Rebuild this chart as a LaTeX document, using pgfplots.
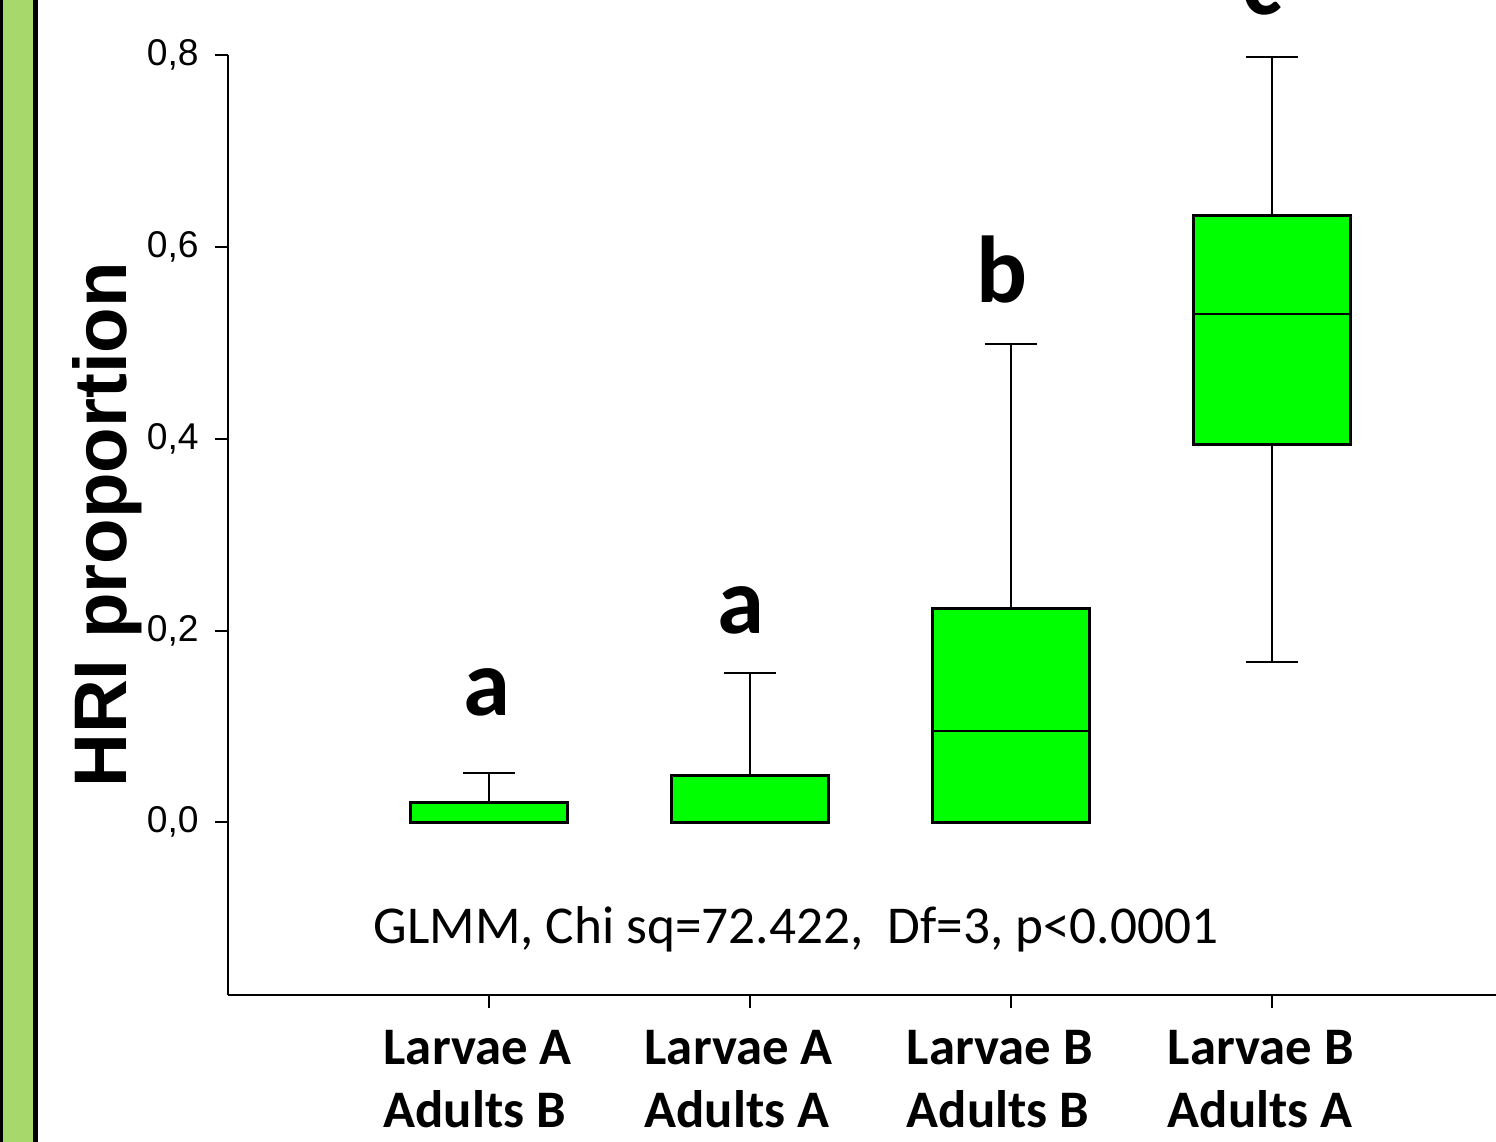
\documentclass[border=0pt]{standalone}
\usepackage{fontspec}
\setmainfont{Carlito}
\newfontfamily\arialfont{Liberation Sans}
\usepackage{pgfplots}
\pgfplotsset{compat=1.18}
\usepgfplotslibrary{statistics}
\definecolor{boxgreen}{HTML}{00FF00}
\definecolor{stripgreen}{HTML}{A6D86C}
\begin{document}
\begin{tikzpicture}
\useasboundingbox (-91.2pt,-58.8pt) rectangle (507.2pt,398pt);
\fill[black] (-91.2pt,-58.8pt) rectangle (-75.9pt,398pt);
\fill[stripgreen] (-89.9pt,-58.8pt) rectangle (-77.9pt,398pt);
\begin{axis}[
  at={(0,0)}, anchor=south west,
  scale only axis, width=507.2pt, height=376pt,
  xmin=0, xmax=4.858, ymin=-0.18, ymax=0.8,
  axis x line*=bottom, axis y line*=left,
  axis line style={line width=1pt, -},
  xtick={1,2,3,4},
  xticklabels={{Larvae A\\Adults B},{Larvae A\\Adults A},{Larvae B\\Adults B},{Larvae B\\Adults A}},
  xticklabel style={align=left, font=\fontsize{21.1}{25.2}\selectfont\bfseries, xshift=-4.5pt, yshift=-5.4pt},
  ytick={0,0.2,0.4,0.6,0.8},
  yticklabel style={font=\arialfont\fontsize{14.9}{17}\selectfont, xshift=-3pt,
    /pgf/number format/.cd, use comma, fixed, fixed zerofill, precision=1, assume math mode=true},
  tick align=outside, major tick length=5.2pt,
  tick style={line width=0.8pt, black},
  clip=false,
  boxplot/draw direction=y,
  boxplot/box extend=0.6,
  boxplot/whisker extend=0.2,
  boxplot/every box/.style={fill=boxgreen, draw=black, line width=1.2pt},
  boxplot/every whisker/.style={black, line width=0.8pt},
  boxplot/every median/.style={black, line width=0.8pt},
]
\addplot[boxplot prepared={draw position=1, lower whisker=0, lower quartile=0, median=0, upper quartile=0.0209, upper whisker=0.0518}] coordinates {};
\addplot[boxplot prepared={draw position=2, lower whisker=0, lower quartile=0, median=0, upper quartile=0.049, upper whisker=0.156}] coordinates {};
\addplot[boxplot prepared={draw position=3, lower whisker=0, lower quartile=0, median=0.095, upper quartile=0.223, upper whisker=0.499}] coordinates {};
\addplot[boxplot prepared={draw position=4, lower whisker=0.167, lower quartile=0.394, median=0.530, upper quartile=0.633, upper whisker=0.798}] coordinates {};
\node[font=\fontsize{38}{40}\selectfont\bfseries, anchor=base] at (axis cs:0.992,0.1116) {a};
\node[font=\fontsize{38}{40}\selectfont\bfseries, anchor=base] at (axis cs:1.966,0.197) {a};
\node[font=\fontsize{38}{40}\selectfont\bfseries, anchor=base] at (axis cs:2.966,0.542) {b};
\node[font=\fontsize{38}{40}\selectfont\bfseries, anchor=base] at (axis cs:3.962,0.842) {c};
\node[font=\fontsize{21.3}{25}\selectfont, anchor=base] at (axis cs:2.176,-0.126) {GLMM, Chi sq=72.422,\ \ Df=3, p<0.0001};
\end{axis}
\node[rotate=90, anchor=base, font=\arialfont\bfseries\fontsize{29.8}{32}\selectfont] at (-40.6pt,188pt) {HRI proportion};
\end{tikzpicture}
\end{document}
